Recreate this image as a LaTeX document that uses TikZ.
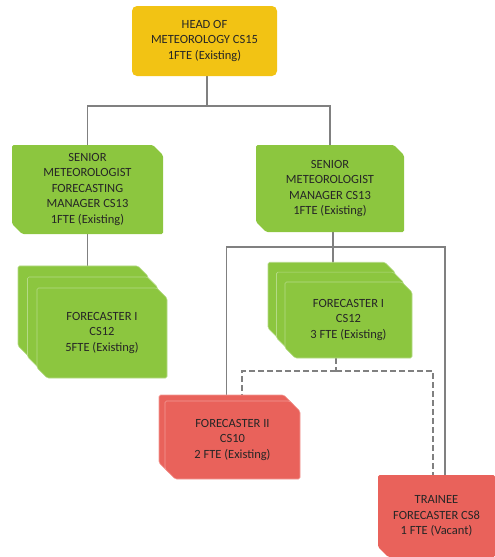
\documentclass[tikz,border=0pt]{standalone}
\usepackage{fontspec}
\setmainfont{Carlito}
\usetikzlibrary{shapes.misc,shadows,backgrounds}
\definecolor{headgold}{HTML}{F2C314}
\definecolor{postgreen}{HTML}{8CC63F}
\definecolor{postred}{HTML}{E9625B}
\definecolor{greenedge}{HTML}{B4DA86}
\definecolor{rededge}{HTML}{F29A94}
\definecolor{linegray}{HTML}{808080}
\tikzset{
  post/.style={align=center, text=black!85, inner sep=0pt,
    font=\fontsize{12.5}{15.5}\selectfont},
  headbox/.style={post, rectangle, rounded corners=5pt, fill=headgold},
  cutbox/.style={post, chamfered rectangle,
    chamfered rectangle corners={north east,south west},
    chamfered rectangle xsep=7pt, rounded corners=1.5pt},
  greenbox/.style={cutbox, fill=postgreen},
  redbox/.style={cutbox, fill=postred},
  greenstack/.style={greenbox, draw=greenedge, line width=0.6pt,
    double copy shadow={shadow xshift=-#1pt, shadow yshift=1.16*#1pt,
      fill=postgreen, draw=greenedge, line width=0.6pt}},
  conn/.style={draw=linegray, line width=1.6pt},
  dotconn/.style={draw=linegray, line width=1.6pt, dash pattern=on 6pt off 3pt}
}
\begin{document}
\begin{tikzpicture}[x=1pt,y=-1pt]
\useasboundingbox (0,0) rectangle (495,557);
\node[headbox, minimum width=145pt, minimum height=70pt] (head) at (204.5,41) {HEAD OF\\METEOROLOGY CS15\\1FTE (Existing)};
\node[greenbox, minimum width=151pt, minimum height=89pt] (sr1) at (87.5,189.5) {SENIOR\\METEOROLOGIST\\FORECASTING\\MANAGER CS13\\1FTE (Existing)};
\node[greenbox, minimum width=148pt, minimum height=87pt] (sr2) at (330,188.5) {SENIOR\\METEOROLOGIST\\MANAGER CS13\\1FTE (Existing)};
\node[greenstack=9.5, minimum width=130pt, minimum height=90pt] (fc1) at (102,333) {FORECASTER I\\CS12\\5FTE (Existing)};
\node[greenstack=8.5, minimum width=127pt, minimum height=76pt] (fc2) at (348.5,320) {FORECASTER I\\CS12\\3 FTE (Existing)};
\node[redbox, draw=rededge, line width=0.6pt, minimum width=135pt, minimum height=78pt,
  copy shadow={shadow xshift=-6pt, shadow yshift=6pt, fill=postred, draw=rededge, line width=0.6pt}] (fc3) at (232.5,440) {FORECASTER II\\CS10\\2 FTE (Existing)};
\node[redbox, chamfered rectangle corners=south west, minimum width=117pt, minimum height=82pt] (trainee) at (436.5,516) {TRAINEE\\FORECASTER CS8\\1 FTE (Vacant)};
\coordinate (j1) at (207,106);
\coordinate (j2) at (333,247);
\coordinate (j3) at (336,371);
\begin{scope}[on background layer]
\draw[conn] (head.south -| j1) -- (j1);
\draw[conn] (j1) -| (sr1);
\draw[conn] (j1) -| (sr2);
\draw[conn] (sr1.south) -- (sr1.south |- fc1.north);
\draw[conn] (sr2.south -| j2) -- (j2);
\draw[conn] (j2) -- (j2 |- fc2.north);
\draw[conn] (j2) -| ([xshift=-6pt]fc3.north);
\draw[conn] (j2) -| ([xshift=8.5pt]trainee.north);
\draw[dotconn] (fc2.south -| j3) -- (j3);
\draw[dotconn] (j3) -| ([xshift=9.5pt]fc3.north);
\draw[dotconn] (j3) -| ([xshift=-3.5pt]trainee.north);
\end{scope}
\end{tikzpicture}
\end{document}
